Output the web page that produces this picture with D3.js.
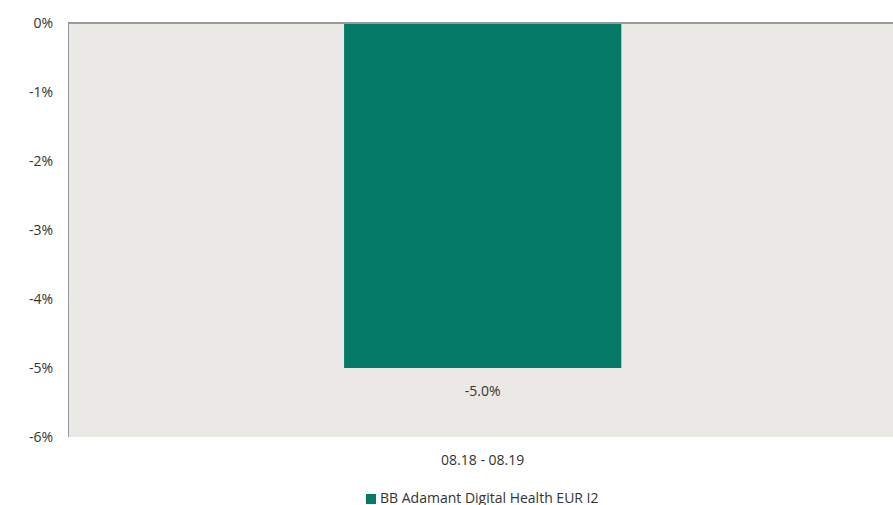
<html><head>
  <script src="https://d3js.org/d3.v7.min.js"></script>
  <style>
    body { margin: 0; background: #fff; }
    text { font-family: 'Open Sans', 'Noto Sans', sans-serif; fill: #333; }
  </style>
</head>
<body>
<script>
  // Data
  const periods = ["08.18 - 08.19"]
  const returns = [-5.0]
  const yTicks = [0, -1, -2, -3, -4, -5, -6]
  const seriesName = "BB Adamant Digital Health EUR I2"

  const width = 893, height = 505
  const margin = {top: 23, right: 0, bottom: 68, left: 68}

  const svg = d3.select("body").append("svg")
                .attr("width", width)
                .attr("height", height)

  const x = d3.scaleBand()
              .domain(periods)
              .range([margin.left, width - margin.right])
              .padding(0.497)
              .align(0.504)
  const y = d3.scaleLinear()
              .domain([0, -6])
              .range([margin.top, height - margin.bottom])

  // plot background
  svg.append("rect")
     .attr("x", margin.left)
     .attr("y", margin.top)
     .attr("width", width - margin.right - margin.left)
     .attr("height", y(-6) - y(0))
     .attr("fill", "#ebe9e5")

  // bars
  svg.selectAll(".bar").data(returns)
     .join("rect")
     .attr("class", "bar")
     .attr("x", (d, i) => x(periods[i]))
     .attr("width", x.bandwidth())
     .attr("y", y(0))
     .attr("height", d => y(d) - y(0))
     .attr("fill", "#047965")

  // value labels
  svg.selectAll(".val").data(returns)
     .join("text")
     .attr("class", "val")
     .attr("x", (d, i) => x(periods[i]) + x.bandwidth() / 2)
     .attr("y", d => y(d) + 28)
     .attr("text-anchor", "middle")
     .style("font-size", "14px")
     .text(d => d.toFixed(1) + "%")

  // zero line
  svg.append("line")
     .attr("x1", margin.left).attr("x2", width - margin.right)
     .attr("y1", y(0)).attr("y2", y(0))
     .attr("stroke", "#999").attr("stroke-width", 2)

  // y axis line
  svg.append("line")
     .attr("x1", margin.left + 0.5).attr("x2", margin.left + 0.5)
     .attr("y1", y(0)).attr("y2", y(-6))
     .attr("stroke", "#999").attr("stroke-width", 1)

  // y tick labels
  svg.selectAll(".ytick").data(yTicks)
     .join("text")
     .attr("class", "ytick")
     .attr("x", 53)
     .attr("y", d => y(d) + 5)
     .attr("text-anchor", "end")
     .style("font-size", "14px")
     .text(d => d + "%")

  // x labels
  svg.selectAll(".xlab").data(periods)
     .join("text")
     .attr("class", "xlab")
     .attr("x", d => x(d) + x.bandwidth() / 2)
     .attr("y", 465)
     .attr("text-anchor", "middle")
     .style("font-size", "14px")
     .text(d => d)

  // legend
  svg.append("rect")
     .attr("x", 366).attr("y", 494)
     .attr("width", 10).attr("height", 10)
     .attr("fill", "#047965")
  svg.append("text")
     .attr("x", 380).attr("y", 503)
     .style("font-size", "14px")
     .text(seriesName)
</script>
</body></html>
